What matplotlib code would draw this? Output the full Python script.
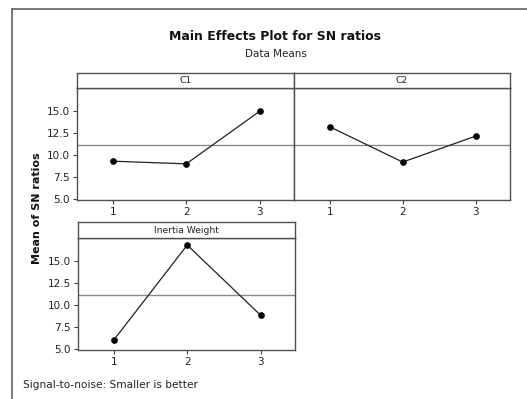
import matplotlib
matplotlib.use("Agg")
import matplotlib.pyplot as plt
from matplotlib.lines import Line2D

plt.rcParams['font.family'] = ['DejaVu Sans']

levels = [1, 2, 3]
factors = ["C1", "C2", "Inertia Weight"]
c1_means = [9.3, 9.0, 14.95]
c2_means = [13.2, 9.2, 12.15]
iw_means = [6.05, 16.8, 8.85]
grand_mean = 11.12
y_ticks = [5.0, 7.5, 10.0, 12.5, 15.0]
y_tick_labels = ["5.0", "7.5", "10.0", "12.5", "15.0"]

W, H = 527, 399
fig = plt.figure(figsize=(W / 100, H / 100), dpi=100)
fig.patch.set_facecolor("white")

def rect(x0, y0, x1, y1):
    return [x0 / W, 1 - y1 / H, (x1 - x0) / W, (y1 - y0) / H]

frame_col = "#505050"

# outer border
fig.add_artist(Line2D([12 / W, 12 / W], [0, 1 - 9 / H], color="#606060", lw=1.2, transform=fig.transFigure))
fig.add_artist(Line2D([12 / W, 1], [1 - 9 / H, 1 - 9 / H], color="#606060", lw=1.2, transform=fig.transFigure))

panels = [
    (factors[0], c1_means, (77, 88, 294, 200), True),
    (factors[1], c2_means, (294, 88, 510, 200), False),
    (factors[2], iw_means, (78, 238, 295, 350), True),
]

for name, vals, (x0, y0, x1, y1), show_y in panels:
    ax = fig.add_axes(rect(x0, y0, x1, y1))
    ax.axhline(grand_mean, color="#8a8a8a", lw=1.0, zorder=1)
    ax.plot(levels, vals, color="#202020", lw=0.9, marker="o", ms=3.8,
            markerfacecolor="black", markeredgecolor="black", zorder=3)
    ax.set_xlim(0.51, 3.47)
    ax.set_ylim(4.9, 17.6)
    ax.set_xticks(levels)
    ax.set_xticklabels([str(v) for v in levels], fontsize=7.5)
    ax.set_yticks(y_ticks)
    if show_y:
        ax.set_yticklabels(y_tick_labels, fontsize=7.5)
    else:
        ax.tick_params(axis="y", left=False, labelleft=False)
    ax.tick_params(axis="both", direction="out", length=3, width=0.8, colors="#404040",
                   labelcolor="#222222", pad=2)
    for s in ax.spines.values():
        s.set_color(frame_col)
        s.set_linewidth(1.0)
    # strip
    sax = fig.add_axes(rect(x0, y0 - 15.5, x1, y0))
    sax.set_xticks([])
    sax.set_yticks([])
    for s in sax.spines.values():
        s.set_color(frame_col)
        s.set_linewidth(1.0)
    sax.text(0.5, 0.5, name, ha="center", va="center", fontsize=6.6, color="#222222",
             transform=sax.transAxes)

fig.text(275 / W, 1 - 37 / H, "Main Effects Plot for SN ratios", ha="center", va="center",
         fontsize=9, fontweight="bold", color="#111111")
fig.text(276 / W, 1 - 54 / H, "Data Means", ha="center", va="center",
         fontsize=7.5, color="#222222")
fig.text(37 / W, 1 - 208 / H, "Mean of SN ratios", ha="center", va="center",
         rotation=90, fontsize=8, fontweight="bold", color="#111111")
fig.text(23 / W, 1 - 385 / H, "Signal-to-noise: Smaller is better", ha="left", va="center",
         fontsize=7.6, color="#222222")

fig.savefig("out.png", dpi=100)
